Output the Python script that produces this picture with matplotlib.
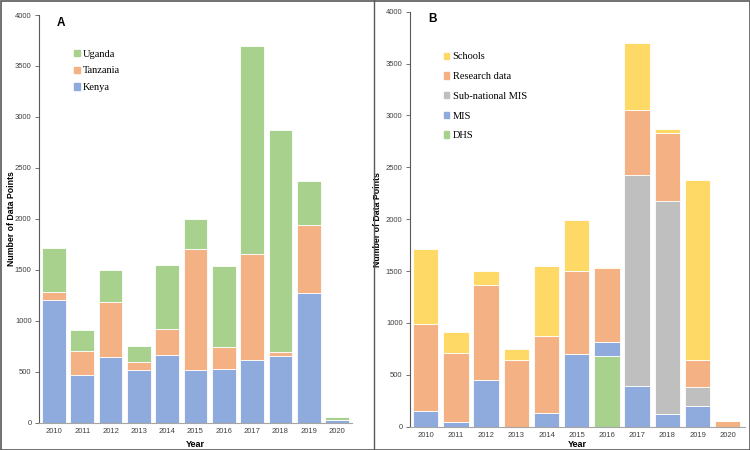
import numpy as np
import matplotlib
matplotlib.use("Agg")
import matplotlib.pyplot as plt
from matplotlib.patches import Patch, Rectangle
from matplotlib.lines import Line2D

years = ["2010", "2011", "2012", "2013", "2014", "2015", "2016", "2017", "2018", "2019", "2020"]

# panel A - by country
kenya = [1200, 470, 640, 520, 660, 520, 530, 615, 650, 1275, 30]
tanzania = [80, 230, 540, 75, 260, 1185, 215, 1040, 40, 665, 0]
uganda = [430, 205, 320, 155, 625, 290, 790, 2045, 2180, 435, 25]

# panel B - by source
dhs = [0, 0, 0, 0, 0, 0, 680, 0, 0, 0, 0]
mis = [155, 50, 450, 0, 135, 700, 135, 390, 125, 200, 0]
subnat = [0, 0, 0, 0, 0, 0, 0, 2035, 2055, 185, 0]
research = [835, 665, 915, 640, 740, 805, 710, 625, 650, 255, 55]
schools = [725, 195, 135, 110, 670, 490, 10, 650, 40, 1735, 0]

GREEN = "#A9D18E"
ORANGE = "#F4B183"
BLUE = "#8FAADC"
YELLOW = "#FFD966"
GREY = "#BFBFBF"

plt.rcParams["font.family"] = ["Liberation Sans", "DejaVu Sans"]

fig = plt.figure(figsize=(7.5, 4.5), dpi=100)
W, H = 750, 450


def px_axes(x0, x1, ytop, ybot):
    return fig.add_axes([x0 / W, 1 - ybot / H, (x1 - x0) / W, (ybot - ytop) / H])


def style(ax, xlim, ylab_x, xlabpad):
    x = np.arange(len(years))
    ax.set_xlim(*xlim)
    ax.set_ylim(0, 4000)
    ax.set_yticks(range(0, 4001, 500))
    ax.set_xticks(x)
    ax.set_xticklabels(years)
    ax.tick_params(axis="both", labelsize=5.5, colors="#404040")
    ax.tick_params(axis="x", length=0, pad=4)
    ax.tick_params(axis="y", length=3, width=0.6, color="#595959", pad=2.5)
    ax.spines["top"].set_visible(False)
    ax.spines["right"].set_visible(False)
    ax.spines["left"].set_color("#595959")
    ax.spines["left"].set_linewidth(0.8)
    ax.spines["bottom"].set_color("#A6A6A6")
    ax.spines["bottom"].set_linewidth(0.8)
    ax.set_xlabel("Year", fontsize=6.5, fontweight="bold", labelpad=xlabpad)
    ax.set_ylabel("Number of Data Points", fontsize=6.3, fontweight="bold", va="center")
    ax.yaxis.set_label_coords(ylab_x, 0.5)


def stack(ax, series, colors, width):
    x = np.arange(len(years))
    bottom = np.zeros(len(years))
    for vals, c in zip(series, colors):
        vals = np.array(vals, dtype=float)
        ax.bar(x, vals, width, bottom=bottom, color=c, edgecolor="white", linewidth=0.6)
        bottom += vals


# ---- panel A
axA = px_axes(39.3, 352, 15, 422.7)
stack(axA, [kenya, tanzania, uganda], [BLUE, ORANGE, GREEN], 0.84)
style(axA, (-0.52, 10.53), -0.09, 3.5)
axA.text(0.055, 0.995, "A", transform=axA.transAxes, fontsize=8.5, fontweight="bold", va="top")
hA = [Patch(color=GREEN), Patch(color=ORANGE), Patch(color=BLUE)]
axA.legend(hA, ["Uganda", "Tanzania", "Kenya"], loc="upper left", bbox_to_anchor=(0.111, 0.915),
           frameon=False, prop={"family": "Liberation Serif", "size": 7.5},
           handlelength=0.55, handleheight=0.55, handletextpad=0.3, labelspacing=0.75,
           borderpad=0, borderaxespad=0)

# ---- panel B
axB = px_axes(410.3, 745, 11.7, 426.7)
stack(axB, [dhs, mis, subnat, research, schools], [GREEN, BLUE, GREY, ORANGE, YELLOW], 0.84)
style(axB, (-0.51, 10.57), -0.097, 0.5)
axB.text(0.055, 0.997, "B", transform=axB.transAxes, fontsize=8.5, fontweight="bold", va="top")
hB = [Patch(color=YELLOW), Patch(color=ORANGE), Patch(color=GREY), Patch(color=BLUE), Patch(color=GREEN)]
axB.legend(hB, ["Schools", "Research data", "Sub-national MIS", "MIS", "DHS"], loc="upper left",
           bbox_to_anchor=(0.1, 0.902), frameon=False, prop={"family": "Liberation Serif", "size": 7.5},
           handlelength=0.55, handleheight=0.55, handletextpad=0.3, labelspacing=1.03,
           borderpad=0, borderaxespad=0)

# frame around the figure and the divider between panels
fig.add_artist(Rectangle((0.5 / W, 0.5 / H), 1 - 1 / W, 1 - 1 / H, transform=fig.transFigure,
                         fill=False, edgecolor="#595959", linewidth=1.2))
fig.add_artist(Line2D([374 / W, 374 / W], [0, 1], transform=fig.transFigure, color="#595959", linewidth=1.0))

fig.savefig("out.png", dpi=100)
